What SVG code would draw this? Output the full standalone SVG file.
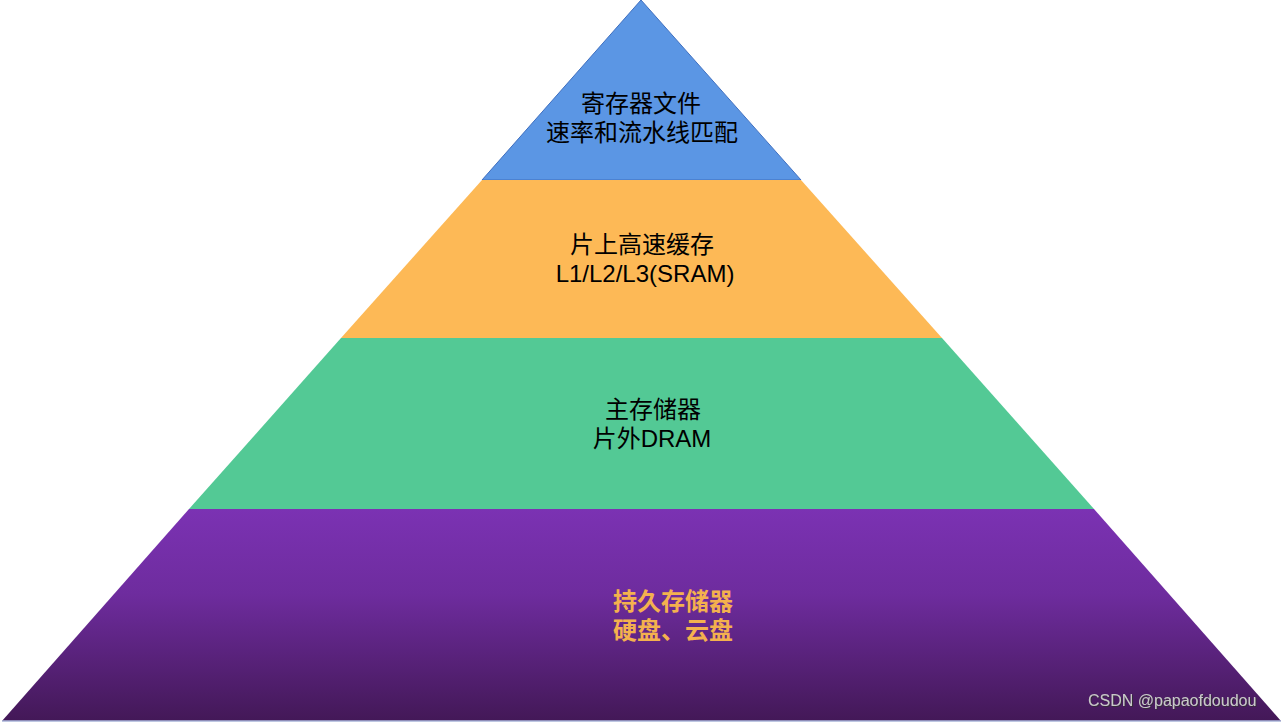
<svg xmlns="http://www.w3.org/2000/svg" width="1283" height="722" viewBox="0 0 1283 722">
<defs>
<linearGradient id="pg" x1="0" y1="0" x2="0" y2="1">
<stop offset="0" stop-color="#7B32B3"/>
<stop offset="0.4" stop-color="#6E2C9E"/>
<stop offset="1" stop-color="#431857"/>
</linearGradient>
<filter id="sh" x="-5%" y="-20%" width="110%" height="140%">
<feDropShadow dx="1" dy="1" stdDeviation="0.5" flood-color="#333" flood-opacity="0.8"/>
</filter>
</defs>
<style>
.t{font-family:"Liberation Sans","Noto Sans CJK SC",sans-serif;font-size:24px;fill:#000;text-anchor:middle}
.b{font-family:"Liberation Sans","Noto Sans CJK SC",sans-serif;font-size:24px;font-weight:bold;fill:#F4B14E;text-anchor:middle}
.w{font-family:"Liberation Sans","Noto Sans",sans-serif;font-size:16px;fill:#C8C8C8}
</style>
<rect width="1283" height="722" fill="#fff"/>
<g id="layer1">
<polygon points="641,0 801,180 482,180" fill="#5B96E4" stroke="#3F6FBF" stroke-width="1"/>
<text class="t" x="641" y="112">寄存器文件</text>
<text class="t" x="642" y="141">速率和流水线匹配</text>
</g>
<g id="layer2">
<polygon points="482,180 801,180 942,338 341,338" fill="#FDB956"/>
<text class="t" x="642" y="253">片上高速缓存</text>
<text class="t" x="645" y="282">L1/L2/L3(SRAM)</text>
</g>
<g id="layer3">
<polygon points="341,338 942,338 1094,509 189,509" fill="#53C995"/>
<text class="t" x="653" y="418">主存储器</text>
<text class="t" x="652" y="447">片外DRAM</text>
</g>
<g id="layer4">
<polygon points="189,509 1094,509 1281,721 2,721" fill="url(#pg)"/>
<line x1="2" y1="721" x2="1281" y2="721" stroke="#A9B4D8" stroke-width="1.5"/>
<text class="b" x="673" y="610">持久存储器</text>
<text class="b" x="673" y="639">硬盘、云盘</text>
</g>
<g id="connectors"></g>
<text class="w" x="1088" y="706" filter="url(#sh)">CSDN @papaofdoudou</text>
</svg>
